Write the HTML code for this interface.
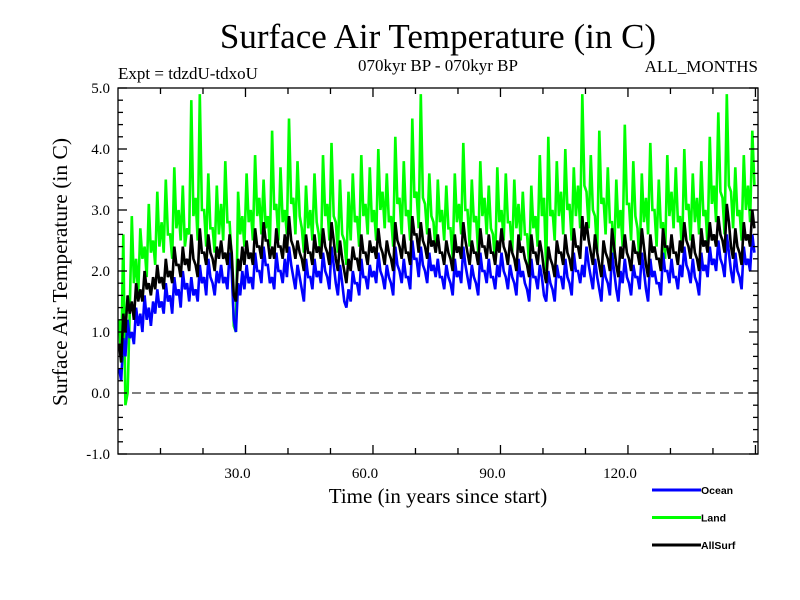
<!DOCTYPE html>
<html><head><meta charset="utf-8"><style>
html,body{margin:0;padding:0;background:#fff;}
svg{display:block;}
</style></head><body>
<svg id="chart" width="800" height="600" xmlns="http://www.w3.org/2000/svg">
<text x="438" y="48" text-anchor="middle" font-family="Liberation Serif, serif" font-size="35">Surface Air Temperature (in C)</text>
<text x="118" y="79" font-family="Liberation Serif, serif" font-size="17">Expt = tdzdU-tdxoU</text>
<text x="438" y="71" text-anchor="middle" font-family="Liberation Serif, serif" font-size="17">070kyr BP - 070kyr BP</text>
<text x="758" y="72" text-anchor="end" font-family="Liberation Serif, serif" font-size="17">ALL_MONTHS</text>
<text transform="translate(67,272) rotate(-90)" text-anchor="middle" font-family="Liberation Serif, serif" font-size="21.5">Surface Air Temperature (in C)</text>
<text x="438" y="503" text-anchor="middle" font-family="Liberation Serif, serif" font-size="21">Time (in years since start)</text>
<g id="plot"></g>
<g id="axes"></g>
<g id="legend"></g>
</svg>
<script>
const yearsStart = 0;
const landHigh = [1.2,2.6,0.0,2.9,2.2,2.7,2.4,3.1,2.5,3.3,
2.8,3.5,2.6,3.7,3.0,3.4,2.7,4.8,3.2,4.9,
3.0,3.6,2.7,3.4,3.1,3.8,2.8,1.1,3.3,2.9,
3.6,3.0,3.9,3.2,3.5,2.9,4.3,3.1,3.7,3.0,
4.5,3.2,3.8,2.7,3.4,3.0,3.6,2.6,3.9,3.1,
4.1,2.8,3.5,2.5,3.3,3.6,2.9,3.9,3.1,3.7,
3.0,4.0,3.3,3.6,2.9,4.2,3.2,3.8,3.0,4.5,
3.3,4.9,3.1,3.6,2.8,3.5,3.0,3.4,2.7,3.6,
3.1,4.1,3.0,3.5,2.9,3.8,3.2,3.4,2.6,3.7,
3.0,3.6,2.8,3.5,3.1,3.3,2.6,3.4,2.9,3.9,
3.2,4.2,3.0,3.8,3.3,4.0,3.1,3.7,3.4,4.9,
3.3,3.9,2.9,4.3,3.2,3.7,2.8,3.5,3.0,4.4,
3.1,3.8,2.7,3.6,3.2,4.1,3.0,3.5,2.8,3.9,
3.3,3.7,2.9,4.0,3.1,3.6,3.2,3.8,3.0,4.2,
3.4,4.6,3.2,4.9,3.3,3.7,3.0,3.9,3.4,4.3];
const landLow = [0.5,-0.2,1.3,1.8,1.6,2.2,1.9,2.3,2.1,2.4,
2.3,2.6,2.2,2.7,2.5,2.4,2.6,2.9,2.5,3.0,
2.4,2.7,2.3,2.6,2.5,2.8,2.2,1.0,2.6,2.4,
2.8,2.5,2.9,2.6,2.7,2.4,3.0,2.5,2.8,2.6,
3.1,2.6,2.9,2.3,2.7,2.5,2.8,2.2,2.9,2.5,
2.9,2.3,2.6,2.1,2.5,2.8,2.4,2.9,2.6,2.8,
2.5,3.0,2.7,2.8,2.4,3.1,2.6,2.9,2.5,3.2,
2.7,3.2,2.6,2.9,2.3,2.8,2.5,2.7,2.2,2.8,
2.6,3.0,2.4,2.8,2.3,2.9,2.6,2.7,2.1,2.8,
2.5,2.8,2.3,2.7,2.5,2.6,2.1,2.7,2.4,2.9,
2.0,2.9,2.5,2.9,2.6,3.0,2.5,2.9,2.7,3.4,
2.7,3.0,2.3,3.1,2.6,2.8,2.2,2.7,2.4,3.1,
2.5,2.9,2.1,2.8,2.6,3.0,2.4,2.7,2.2,2.9,
2.7,2.8,2.3,3.0,2.5,2.8,2.6,2.9,2.4,3.1,
2.8,3.3,2.6,3.4,2.7,2.9,2.5,3.0,2.8,3.4];
const oceanHigh = [0.4,0.9,1.2,1.0,1.4,1.3,1.6,1.4,1.5,1.7,
1.5,1.8,1.6,1.9,1.7,2.0,1.8,1.9,1.7,2.1,
1.9,2.2,1.8,2.0,2.1,1.9,2.3,1.2,1.8,2.0,
2.1,1.9,2.3,2.0,2.4,2.1,1.9,2.3,2.0,2.2,
2.4,1.9,2.1,1.7,2.2,1.9,2.2,2.0,2.3,1.9,
2.4,1.8,2.1,1.5,1.7,2.0,1.8,2.2,1.9,2.1,
2.0,2.3,1.9,2.1,1.8,2.4,2.0,2.2,1.9,2.5,
2.2,2.4,2.0,2.3,2.1,2.2,1.9,2.1,1.8,2.2,
2.0,2.4,1.9,2.1,1.8,2.3,2.0,2.2,1.9,2.1,
2.3,1.9,2.1,1.8,2.2,2.0,1.7,2.2,1.9,2.1,
1.6,2.0,1.7,2.1,1.9,2.2,1.8,2.3,2.0,2.1,
2.4,1.9,2.2,1.7,2.1,1.8,2.3,1.7,2.0,2.2,
1.8,2.1,1.9,2.3,1.7,2.2,2.0,1.8,2.3,2.0,
2.2,1.9,2.1,2.4,2.0,2.2,1.8,2.3,2.1,2.4,
2.2,2.5,2.1,2.6,2.0,2.3,1.9,2.4,2.2,2.6];
const oceanLow = [0.2,0.6,0.9,0.8,1.1,1.0,1.2,1.1,1.3,1.4,
1.3,1.5,1.3,1.6,1.4,1.7,1.5,1.6,1.5,1.8,
1.6,1.9,1.6,1.8,1.8,1.7,2.0,1.0,1.6,1.7,
1.8,1.7,2.0,1.8,2.1,1.8,1.7,2.0,1.8,1.9,
2.1,1.7,1.9,1.5,1.9,1.7,1.9,1.8,2.0,1.7,
2.1,1.6,1.8,1.4,1.5,1.8,1.6,1.9,1.7,1.9,
1.8,2.0,1.7,1.9,1.6,2.1,1.8,1.9,1.7,2.2,
1.9,2.1,1.8,2.0,1.9,1.9,1.7,1.9,1.6,1.9,
1.8,2.1,1.7,1.9,1.6,2.0,1.8,1.9,1.7,1.9,
2.0,1.7,1.9,1.6,1.9,1.8,1.5,1.9,1.7,1.9,
1.5,1.8,1.5,1.9,1.7,1.9,1.6,2.0,1.8,1.9,
2.1,1.7,1.9,1.5,1.9,1.6,2.0,1.5,1.8,1.9,
1.6,1.9,1.7,2.0,1.5,1.9,1.8,1.6,2.0,1.8,
1.9,1.7,1.9,2.1,1.8,1.9,1.6,2.0,1.9,2.1,
2.0,2.2,1.9,2.3,1.8,2.0,1.7,2.1,2.0,2.3];
const allSurfHigh = [0.8,1.3,1.6,1.5,1.8,1.7,2.0,1.8,1.9,2.1,
1.9,2.2,2.0,2.4,2.1,2.4,2.2,2.6,2.1,2.7,
2.3,2.6,2.2,2.4,2.5,2.3,2.6,1.6,2.2,2.4,
2.5,2.3,2.7,2.4,2.8,2.5,2.4,2.7,2.4,2.6,
2.9,2.4,2.5,2.2,2.6,2.3,2.6,2.4,2.7,2.3,
2.8,2.2,2.5,2.0,2.2,2.4,2.2,2.6,2.3,2.5,
2.4,2.7,2.3,2.5,2.2,2.8,2.4,2.6,2.3,2.9,
2.6,2.8,2.4,2.7,2.5,2.6,2.3,2.5,2.2,2.6,
2.4,2.8,2.3,2.5,2.3,2.7,2.4,2.6,2.3,2.5,
2.7,2.3,2.5,2.2,2.6,2.4,2.1,2.6,2.3,2.5,
2.0,2.4,2.1,2.5,2.3,2.6,2.2,2.7,2.4,2.9,
2.8,2.3,2.6,2.1,2.5,2.2,2.7,2.1,2.4,2.6,
2.2,2.5,2.3,2.7,2.1,2.6,2.4,2.2,2.7,2.4,
2.6,2.3,2.5,2.8,2.4,2.6,2.2,2.7,2.5,2.8,
2.6,2.9,2.5,3.1,2.4,2.7,2.3,2.8,2.6,3.0];
const allSurfLow = [0.5,1.0,1.3,1.2,1.5,1.5,1.7,1.6,1.7,1.8,
1.7,1.9,1.8,2.1,1.9,2.1,2.0,2.2,1.9,2.3,
2.1,2.3,2.0,2.2,2.2,2.1,2.3,1.5,2.0,2.1,
2.2,2.1,2.4,2.2,2.5,2.2,2.2,2.4,2.2,2.3,
2.5,2.2,2.3,2.0,2.3,2.1,2.3,2.2,2.4,2.1,
2.5,2.0,2.2,1.8,2.0,2.2,2.0,2.3,2.1,2.3,
2.2,2.4,2.1,2.3,2.0,2.5,2.2,2.3,2.1,2.6,
2.3,2.5,2.2,2.4,2.3,2.3,2.1,2.3,2.0,2.3,
2.2,2.5,2.1,2.3,2.1,2.4,2.2,2.3,2.1,2.3,
2.4,2.1,2.3,2.0,2.3,2.2,1.9,2.3,2.1,2.3,
1.8,2.2,1.9,2.3,2.1,2.3,2.0,2.4,2.2,2.5,
2.5,2.1,2.3,1.9,2.3,2.0,2.4,1.9,2.2,2.3,
2.0,2.3,2.1,2.4,1.9,2.3,2.2,2.0,2.4,2.2,
2.3,2.1,2.3,2.5,2.2,2.3,2.0,2.4,2.3,2.5,
2.4,2.6,2.3,2.8,2.2,2.4,2.1,2.5,2.4,2.7];
const xTickValues = [30,60,90,120];
const xTickLabels = ["30.0","60.0","90.0","120.0"];
const yTickValues = [-1,0,1,2,3,4,5];
const yTickLabels = ["-1.0","0.0","1.0","2.0","3.0","4.0","5.0"];
const legendNames = ["Ocean","Land","AllSurf"];

const NS="http://www.w3.org/2000/svg";
const L=118,R=758,T=88,B=454,XMIN=0,XMAX=150.6,YMIN=-1,YMAX=5;
const xs=v=>L+(v-XMIN)/(XMAX-XMIN)*(R-L);
const ys=v=>B-(v-YMIN)/(YMAX-YMIN)*(B-T);
function mk(tag,attrs,parent){const e=document.createElementNS(NS,tag);for(const k in attrs)e.setAttribute(k,attrs[k]);parent.appendChild(e);return e;}
const plot=document.getElementById('plot'),axes=document.getElementById('axes'),legend=document.getElementById('legend');

const zero=mk('line',{x1:L,x2:R,y1:ys(0),y2:ys(0),stroke:'#000','stroke-width':1,'stroke-dasharray':'9,5'},plot);



function series(hi,lo,color,name){
  const pts=[];
  hi.forEach((v,i)=>{
    pts.push([xs(yearsStart+i+0.25),ys(v)]);
    pts.push([xs(yearsStart+i+0.75),ys(lo[i])]);
  });
  const d=pts.map((p,i)=>(i?'L':'M')+p[0].toFixed(1)+','+p[1].toFixed(1)).join(' ');
  const p=mk('path',{d:d,fill:'none',stroke:color,'stroke-width':2.6,'stroke-linejoin':'miter','stroke-miterlimit':2},plot);
  
  
}
series(landHigh,landLow,'#00ff00','land-line');
series(oceanHigh,oceanLow,'#0000ff','ocean-line');
series(allSurfHigh,allSurfLow,'#000000','allsurf-line');

const frame=mk('rect',{x:L,y:T,width:R-L,height:B-T,fill:'none',stroke:'#000','stroke-width':1.3},axes);


for(let v=-1;v<=5.001;v+=0.2){
  const maj=Math.abs(v-Math.round(v))<1e-6, len=maj?9:5, y=ys(v);
  const t1=mk('line',{x1:L,x2:L+len,y1:y,y2:y,stroke:'#000','stroke-width':1.3},axes);
  
  
  const t2=mk('line',{x1:R-len,x2:R,y1:y,y2:y,stroke:'#000','stroke-width':1.3},axes);
  
  
}
yTickValues.forEach((v,i)=>{
  const t=mk('text',{x:110,y:ys(v)+5,'text-anchor':'end','font-family':'Liberation Serif, serif','font-size':15},axes);
  t.textContent=yTickLabels[i];
  
  
});
for(let v=10;v<XMAX;v+=10){
  const x=xs(v), len=(v%30===0)?9:6;
  const a=mk('line',{x1:x,x2:x,y1:T,y2:T+len,stroke:'#000','stroke-width':1.3},axes);
  
  
  const b=mk('line',{x1:x,x2:x,y1:B-len,y2:B,stroke:'#000','stroke-width':1.3},axes);
  
  
}
xTickValues.forEach((v,i)=>{
  const t=mk('text',{x:xs(v)-8,y:478,'text-anchor':'middle','font-family':'Liberation Serif, serif','font-size':15},axes);
  t.textContent=xTickLabels[i];
  
  
});
const lc=['#0000ff','#00ff00','#000000'];
legendNames.forEach((n,i)=>{
  const y=490+i*27.5;
  const g=mk('g',{},legend);
  
  
  mk('line',{x1:652,x2:701,y1:y,y2:y,stroke:lc[i],'stroke-width':3},g);
  const t=mk('text',{x:701,y:y+4,'font-family':'Liberation Sans, sans-serif','font-size':10.5,'font-weight':'bold'},g);
  t.textContent=n;
});
</script>
</body></html>
